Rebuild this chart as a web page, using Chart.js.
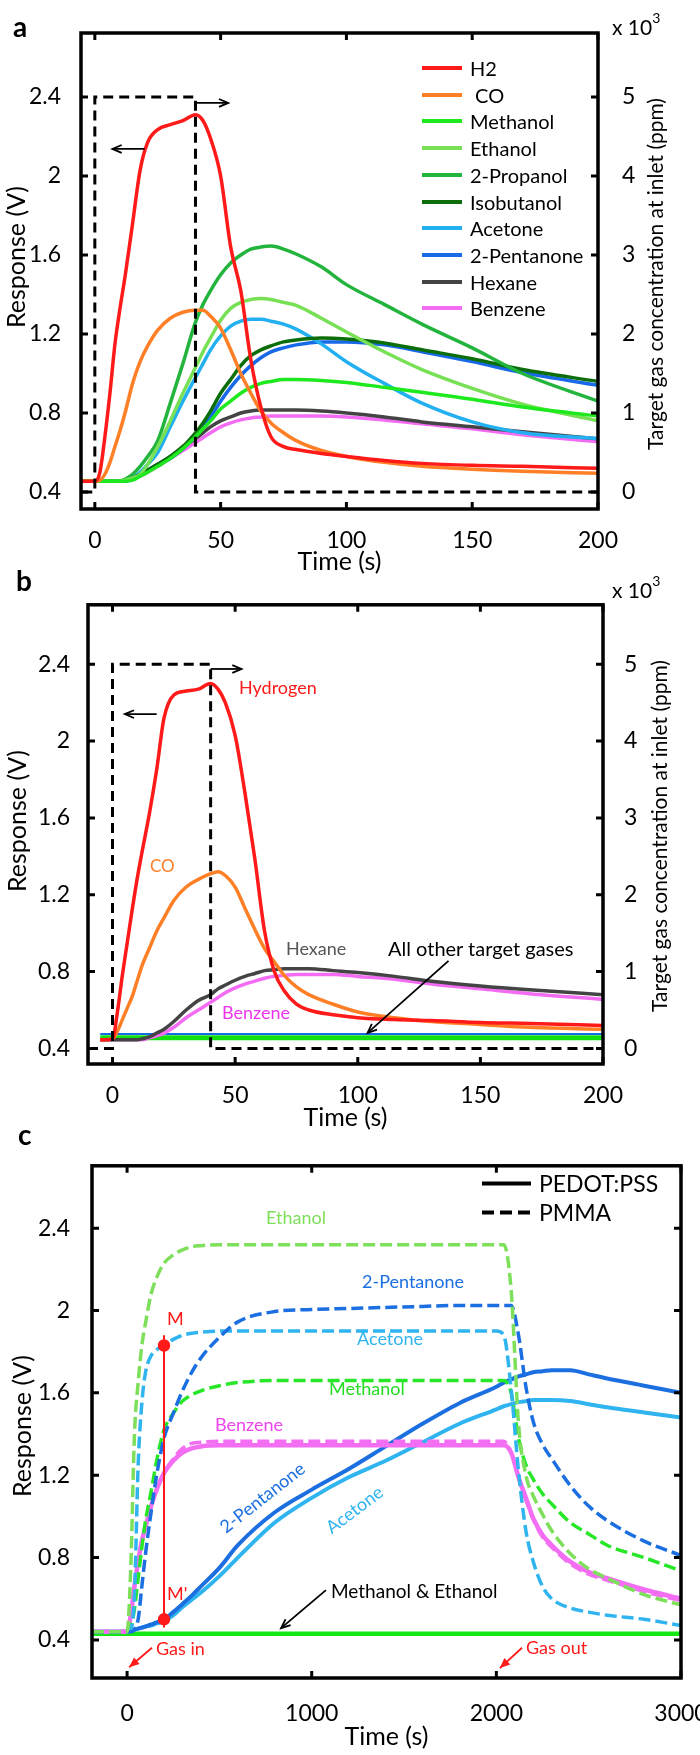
<!DOCTYPE html>
<html>
<head>
<meta charset="utf-8">
<script src="https://cdn.jsdelivr.net/npm/chart.js@4.4.1/dist/chart.umd.min.js"></script>
<style>
  html, body { margin: 0; background: #fff; }
  #page { position: relative; width: 700px; height: 1755px; overflow: hidden; font-family: Lato, 'Open Sans', sans-serif; color: #000; }
  canvas { position: absolute; left: 0; }
  .lbl { position: absolute; white-space: nowrap; line-height: 1; transform: translateY(-50%); font-size: 18px; }
  .panel { position: absolute; font-weight: bold; font-size: 28px; line-height: 1; transform: translateY(-50%); }
  .exp { position: absolute; font-size: 21px; line-height: 1; }
  .exp sup { font-size: 14px; position: relative; top: -4px; }
  .rtitle { position: absolute; white-space: nowrap; font-size: 21px; line-height: 1; transform: translate(-50%, -50%) rotate(-90deg); }
  .ltitle { position: absolute; white-space: nowrap; font-size: 25px; line-height: 1; transform: translate(-50%, -50%) rotate(-90deg); }
  .leg { position: absolute; display: flex; align-items: center; white-space: nowrap; line-height: 1; transform: translateY(-50%); }
  .leg i { display: inline-block; width: 40px; height: 4px; margin-right: 8px; }
</style>
</head>
<body>
<div id="page">
  <canvas id="cA" width="700" height="578" style="top:0"></canvas>
  <canvas id="cB" width="700" height="560" style="top:578px"></canvas>
  <canvas id="cC" width="730" height="617" style="top:1138px"></canvas>

  <div class="panel" style="left:13px;top:26px">a</div>
  <div class="panel" style="left:16px;top:580px">b</div>
  <div class="panel" style="left:18px;top:1134px">c</div>

  <div class="ltitle" style="left:15px;top:257px">Response (V)</div>
  <div class="ltitle" style="left:16px;top:821px">Response (V)</div>
  <div class="ltitle" style="left:21px;top:1426px">Response (V)</div>

  <div class="exp" style="left:612px;top:15px">x 10<sup>3</sup></div>
  <div class="exp" style="left:612px;top:578px">x 10<sup>3</sup></div>
  <div class="rtitle" style="left:654px;top:274px">Target gas concentration at inlet (ppm)</div>
  <div class="rtitle" style="left:658px;top:836px">Target gas concentration at inlet (ppm)</div>

  <div id="legA"></div>

  <div class="lbl" style="left:239px;top:687px;color:#ff1a1a">Hydrogen</div>
  <div class="lbl" style="left:150px;top:865px;color:#ff7f27;font-size:17px">CO</div>
  <div class="lbl" style="left:286px;top:948px;color:#555">Hexane</div>
  <div class="lbl" style="left:388px;top:948px;font-size:20px">All other target gases</div>
  <div class="lbl" style="left:222px;top:1012px;color:#ee33ee">Benzene</div>

  <div class="leg" style="left:482px;top:1183px;font-size:23px"><i style="width:49px;background:#000"></i>PEDOT:PSS</div>
  <div class="leg" style="left:482px;top:1212px;font-size:23px"><i style="width:49px;background:repeating-linear-gradient(90deg,#000 0 12px,transparent 12px 18px)"></i>PMMA</div>

  <div class="lbl" style="left:266px;top:1217px;color:#7ddf5a">Ethanol</div>
  <div class="lbl" style="left:362px;top:1281px;color:#1c6fe0">2-Pentanone</div>
  <div class="lbl" style="left:167px;top:1318px;color:#ff1a1a">M</div>
  <div class="lbl" style="left:357px;top:1338px;color:#2fb4f0">Acetone</div>
  <div class="lbl" style="left:329px;top:1388px;color:#22dd22">Methanol</div>
  <div class="lbl" style="left:215px;top:1424px;color:#ee44ee">Benzene</div>
  <div class="lbl" style="left:262px;top:1497px;color:#1c6fe0;transform:translate(-50%,-50%) rotate(-38deg)">2-Pentanone</div>
  <div class="lbl" style="left:354px;top:1509px;color:#2fb4f0;transform:translate(-50%,-50%) rotate(-37deg)">Acetone</div>
  <div class="lbl" style="left:167px;top:1593px;color:#ff1a1a">M'</div>
  <div class="lbl" style="left:331px;top:1590px;font-size:19px">Methanol &amp; Ethanol</div>
  <div class="lbl" style="left:156px;top:1648px;color:#ff1a1a">Gas in</div>
  <div class="lbl" style="left:526px;top:1647px;color:#ff1a1a">Gas out</div>
</div>
<script>
// ===== Panel a / b: time grid (s) and responses (V) =====
const tAB = [-5, 0, 2, 4, 6, 8, 10, 12, 15, 18, 21, 25, 30, 35, 40, 43, 46, 50, 54, 58, 62, 66, 70, 75, 80, 90, 100, 115, 130, 150, 170, 200];

const aH2 = [.455, .455, .50, .68, .90, 1.15, 1.33, 1.49, 1.76, 2.03, 2.17, 2.235, 2.26, 2.28, 2.31, 2.28, 2.19, 2.00, 1.64, 1.42, 1.07, .83, .68, .63, .615, .595, .58, .56, .545, .535, .53, .52];
const aCO = [.455, .455, .46, .49, .55, .63, .71, .80, .95, 1.06, 1.14, 1.22, 1.28, 1.31, 1.32, 1.32, 1.29, 1.23, 1.12, 1.00, .90, .81, .75, .70, .66, .61, .58, .55, .53, .515, .505, .495];
const aMethanol = [.455, .455, .455, .455, .455, .455, .455, .455, .46, .48, .50, .53, .57, .62, .68, .72, .76, .82, .86, .90, .93, .95, .96, .97, .97, .965, .955, .93, .905, .87, .83, .785];
const aEthanol = [.455, .455, .455, .455, .455, .455, .455, .46, .47, .49, .54, .63, .76, .90, 1.03, 1.11, 1.18, 1.27, 1.33, 1.36, 1.375, 1.38, 1.375, 1.36, 1.345, 1.28, 1.21, 1.11, 1.02, .925, .845, .76];
const a2Propanol = [.455, .455, .455, .455, .455, .455, .455, .465, .49, .53, .58, .66, .85, 1.05, 1.26, 1.35, 1.42, 1.50, 1.56, 1.60, 1.63, 1.64, 1.645, 1.63, 1.605, 1.54, 1.45, 1.35, 1.25, 1.13, 1.00, .86];
const aIsobutanol = [.455, .455, .455, .455, .455, .455, .455, .455, .47, .49, .51, .54, .58, .63, .70, .75, .81, .90, .97, 1.04, 1.09, 1.12, 1.14, 1.16, 1.17, 1.18, 1.175, 1.155, 1.12, 1.075, 1.02, .96];
const aAcetone = [.455, .455, .455, .455, .455, .455, .455, .455, .47, .50, .54, .60, .73, .86, .98, 1.05, 1.12, 1.19, 1.24, 1.265, 1.275, 1.275, 1.265, 1.25, 1.225, 1.15, 1.06, .95, .85, .755, .70, .67];
const a2Pentanone = [.455, .455, .455, .455, .455, .455, .455, .455, .47, .49, .51, .54, .57, .62, .68, .73, .78, .86, .93, .99, 1.04, 1.08, 1.11, 1.13, 1.145, 1.16, 1.16, 1.145, 1.11, 1.06, 1.005, .94];
const aHexane = [.455, .455, .455, .455, .455, .455, .455, .455, .47, .49, .51, .54, .58, .63, .67, .70, .73, .76, .78, .80, .81, .815, .815, .815, .815, .81, .80, .78, .755, .73, .705, .67];
const aBenzene = [.455, .455, .455, .455, .455, .455, .455, .455, .465, .48, .50, .53, .57, .61, .65, .675, .70, .73, .75, .765, .775, .78, .785, .785, .785, .785, .78, .765, .745, .72, .69, .655];

const aNames = ['H2', ' CO', 'Methanol', 'Ethanol', '2-Propanol', 'Isobutanol', 'Acetone', '2-Pentanone', 'Hexane', 'Benzene'];
const aColors = ['#ff1a1a', '#ff7f27', '#1ee81e', '#77e055', '#22b43c', '#0b6e0b', '#22b0f0', '#1769e8', '#444444', '#f36cf3'];
const aSeries = [aH2, aCO, aMethanol, aEthanol, a2Propanol, aIsobutanol, aAcetone, a2Pentanone, aHexane, aBenzene];

const bH2 = [.445, .45, .59, .78, .95, 1.12, 1.28, 1.42, 1.62, 1.85, 2.12, 2.24, 2.26, 2.27, 2.30, 2.27, 2.20, 2.03, 1.73, 1.39, 1.01, .80, .70, .63, .60, .575, .56, .55, .545, .535, .53, .52];
const bCO = [.445, .45, .49, .55, .61, .67, .75, .83, .92, 1.01, 1.08, 1.17, 1.24, 1.28, 1.31, 1.32, 1.30, 1.24, 1.13, 1.02, .92, .85, .78, .72, .68, .63, .59, .56, .54, .525, .51, .50];
const bHexane = [.445, .445, .445, .445, .445, .445, .445, .45, .46, .48, .50, .54, .60, .65, .68, .71, .73, .755, .775, .79, .805, .81, .815, .815, .815, .805, .795, .775, .75, .725, .705, .68];
const bBenzene = [.445, .445, .445, .445, .445, .445, .445, .445, .455, .465, .48, .51, .56, .60, .64, .665, .69, .715, .735, .75, .765, .775, .78, .785, .785, .785, .775, .76, .735, .71, .685, .655];
const bOtherX = [-5, 200];
const bOtherGreen = [.455, .455];
const bOtherBlue = [.475, .475];

// gas pulse at inlet (x10^3 ppm)
const concAX = [-5, 0, 0, 40, 40, 200];
const concBX = [-10, 0, 0, 40, 40, 200];
const concY = [0, 0, 5, 5, 0, 0];

// ===== Panel c: PEDOT:PSS (solid) vs PMMA (dashed) =====
const tC = [-190, 0, 20, 40, 60, 80, 100, 130, 160, 200, 250, 300, 350, 400, 500, 600, 800, 1000, 1200, 1400, 1600, 1800, 2000, 2040, 2080, 2120, 2160, 2200, 2250, 2300, 2400, 2500, 2600, 2800, 3000];
const cEthanolD = [.44, .44, .75, 1.40, 1.65, 1.83, 1.94, 2.08, 2.16, 2.23, 2.27, 2.295, 2.31, 2.315, 2.32, 2.32, 2.32, 2.32, 2.32, 2.32, 2.32, 2.32, 2.32, 2.32, 2.10, 1.45, 1.20, 1.10, 1.01, .93, .82, .745, .70, .62, .57];
const cAcetoneD = [.44, .44, .45, .62, 1.25, 1.55, 1.70, 1.78, 1.81, 1.83, 1.86, 1.88, 1.89, 1.895, 1.90, 1.90, 1.90, 1.90, 1.90, 1.90, 1.90, 1.90, 1.90, 1.88, 1.62, 1.22, .93, .78, .66, .60, .555, .535, .52, .50, .47];
const c2PentanoneD = [.44, .44, .44, .45, .50, .66, .82, 1.02, 1.20, 1.38, 1.50, 1.61, 1.70, 1.77, 1.87, 1.945, 1.995, 2.005, 2.01, 2.015, 2.02, 2.025, 2.025, 2.025, 2.025, 1.88, 1.63, 1.46, 1.35, 1.28, 1.15, 1.05, .98, .88, .81];
const cMethanolD = [.44, .44, .46, .55, .70, .85, .98, 1.12, 1.27, 1.42, 1.50, 1.56, 1.59, 1.61, 1.635, 1.65, 1.66, 1.66, 1.66, 1.66, 1.66, 1.66, 1.66, 1.66, 1.60, 1.38, 1.25, 1.18, 1.11, 1.06, .97, .915, .86, .80, .735];
const cBenzeneS = [.44, .44, .52, .66, .78, .88, .95, 1.05, 1.13, 1.21, 1.27, 1.31, 1.33, 1.34, 1.345, 1.345, 1.345, 1.345, 1.345, 1.345, 1.345, 1.345, 1.345, 1.345, 1.31, 1.19, 1.09, .99, .91, .86, .78, .73, .70, .645, .60];
const cBenzeneD = [.44, .44, .52, .66, .78, .88, .95, 1.05, 1.13, 1.21, 1.28, 1.33, 1.355, 1.36, 1.365, 1.365, 1.365, 1.365, 1.365, 1.365, 1.365, 1.365, 1.365, 1.365, 1.31, 1.19, 1.08, .985, .90, .85, .77, .72, .69, .635, .59];
const c2PentanoneS = [.44, .44, .445, .45, .455, .46, .465, .475, .485, .50, .535, .575, .615, .66, .75, .86, 1.02, 1.13, 1.23, 1.34, 1.45, 1.55, 1.63, 1.65, 1.665, 1.68, 1.69, 1.70, 1.705, 1.71, 1.71, 1.69, 1.67, 1.635, 1.60];
const cAcetoneS = [.44, .44, .445, .45, .455, .46, .465, .47, .48, .49, .52, .56, .595, .63, .71, .80, .97, 1.09, 1.19, 1.27, 1.36, 1.45, 1.52, 1.535, 1.545, 1.555, 1.56, 1.565, 1.565, 1.565, 1.56, 1.545, 1.53, 1.505, 1.48];
const cMeEtX = [-190, 3000];
const cMeEtS = [.43, .43];
const mX = [200, 200];
const mLineY = [1.88, 0.46];
const mDotY = [1.83, 0.50];

const abXTicks = [0, 50, 100, 150, 200];
const cXTicks = [0, 1000, 2000, 3000];
const respTicks = [0.4, 0.8, 1.2, 1.6, 2, 2.4];
const concTicks = [0, 1, 2, 3, 4, 5];

// ===== helpers =====
Chart.defaults.font.family = 'Lato, "Open Sans", sans-serif';
Chart.defaults.color = '#000';

const tickFont = { size: 23 };
const titleFont = { size: 25 };
const fixW = w => s => { s.width = w; };
const fixH = h => s => { s.height = h; };
const setTicks = vals => s => { s.ticks = vals.map(v => ({ value: v })); };
const pts = (xs, ys) => xs.map((x, i) => ({ x, y: ys[i] }));
const line = (label, xs, ys, color, extra) => Object.assign({
    label, data: pts(xs, ys), borderColor: color, backgroundColor: color,
    borderWidth: 3.5, pointRadius: 0, cubicInterpolationMode: 'monotone', fill: false
}, extra || {});
const dashed = { borderDash: [12, 5], borderWidth: 3.5 };
const solidC = { borderWidth: 4 };

// box + inward ticks, MATLAB style
const frame = {
    id: 'frame',
    afterDraw(chart) {
        const { ctx, chartArea: a, scales } = chart;
        const len = 7;
        ctx.save();
        ctx.strokeStyle = '#000';
        ctx.lineWidth = 3;
        ctx.beginPath();
        scales.x.ticks.forEach(t => {
            const px = scales.x.getPixelForValue(t.value);
            ctx.moveTo(px, a.bottom); ctx.lineTo(px, a.bottom - len);
            ctx.moveTo(px, a.top); ctx.lineTo(px, a.top + len);
        });
        scales.y.ticks.forEach(t => {
            const py = scales.y.getPixelForValue(t.value);
            ctx.moveTo(a.left, py); ctx.lineTo(a.left + len, py);
            ctx.moveTo(a.right, py); ctx.lineTo(a.right - len, py);
        });
        ctx.stroke();
        ctx.lineWidth = 3.5;
        ctx.strokeRect(a.left, a.top, a.right - a.left, a.bottom - a.top);
        ctx.restore();
    }
};

// annotation arrows, given in data units
const arrows = list => ({
    id: 'arrows',
    afterDatasetsDraw(chart) {
        const { ctx, scales } = chart;
        ctx.save();
        list.forEach(a => {
            const ys = scales[a.axis || 'y'];
            const x1 = scales.x.getPixelForValue(a.from[0]), y1 = ys.getPixelForValue(a.from[1]);
            const x2 = scales.x.getPixelForValue(a.to[0]), y2 = ys.getPixelForValue(a.to[1]);
            const ang = Math.atan2(y2 - y1, x2 - x1), h = a.head || 10;
            ctx.strokeStyle = ctx.fillStyle = a.color || '#000';
            ctx.lineWidth = a.width || 1.8;
            ctx.beginPath(); ctx.moveTo(x1, y1); ctx.lineTo(x2, y2); ctx.stroke();
            ctx.beginPath();
            ctx.moveTo(x2 - h * Math.cos(ang - 0.4), y2 - h * Math.sin(ang - 0.4));
            ctx.lineTo(x2, y2);
            ctx.lineTo(x2 - h * Math.cos(ang + 0.4), y2 - h * Math.sin(ang + 0.4));
            if (a.fill) { ctx.closePath(); ctx.fill(); } else ctx.stroke();
        });
        ctx.restore();
    }
});

const xAxis = (min, max, ticks, h, pad, titlePad) => ({
    type: 'linear', min, max, afterBuildTicks: setTicks(ticks), afterFit: fixH(h),
    grid: { display: false }, border: { display: false },
    ticks: { font: tickFont, padding: pad, maxRotation: 0, callback: v => String(v) },
    title: { display: true, text: 'Time (s)', font: titleFont, padding: { top: 0, bottom: titlePad } }
});
const yAxis = (min, max, w, pad) => ({
    min, max, afterBuildTicks: setTicks(respTicks), afterFit: fixW(w),
    grid: { display: false }, border: { display: false },
    ticks: { font: tickFont, padding: pad, callback: v => String(v) },
    title: { display: false, text: 'Response (V)' }
});
const concAxis = (min, max, w, pad) => ({
    position: 'right', min: (min - 0.4) / 0.4, max: (max - 0.4) / 0.4,
    afterBuildTicks: setTicks(concTicks), afterFit: fixW(w),
    grid: { display: false }, border: { display: false },
    ticks: { font: tickFont, padding: pad, callback: v => String(v) }
});
const baseOpts = {
    responsive: false, animation: false, events: [],
    plugins: { legend: { display: false }, tooltip: { enabled: false } }
};
const concStyle = { yAxisID: 'y1', borderDash: [10, 6], borderWidth: 3, cubicInterpolationMode: 'default', tension: 0 };

// ===== chart a =====
new Chart(document.getElementById('cA'), {
    type: 'line',
    data: { datasets: [
        line('conc', concAX, concY, '#000', concStyle),
        ...aNames.map((n, i) => line(n, tAB, aSeries[i], aColors[i]))
    ] },
    options: Object.assign({}, baseOpts, {
        layout: { padding: { top: 33, left: 0, right: 0, bottom: 0 } },
        scales: {
            x: xAxis(-5.5, 200, abXTicks, 69, 10, 1),
            y: yAxis(0.314, 2.724, 81, 12),
            y1: concAxis(0.314, 2.724, 102, 16)
        }
    }),
    plugins: [frame, arrows([
        { from: [19.8, 2.137], to: [7, 2.137] },
        { from: [40, 2.37], to: [53, 2.37] }
    ])]
});

const legA = document.getElementById('legA');
aNames.forEach((n, i) => {
    const d = document.createElement('div');
    d.className = 'leg';
    d.style.cssText = `left:422px;top:${68 + i * 26.7}px;font-size:20px`;
    d.innerHTML = `<i style="background:${aColors[i]}"></i>${n.replace(' ', '&nbsp;')}`;
    legA.appendChild(d);
});

// ===== chart b =====
new Chart(document.getElementById('cB'), {
    type: 'line',
    data: { datasets: [
        line('conc', concBX, concY, '#000', concStyle),
        line('Hydrogen', tAB, bH2, '#ff1a1a'),
        line('CO', tAB, bCO, '#ff7f27'),
        line('Hexane', tAB, bHexane, '#444444'),
        line('Benzene', tAB, bBenzene, '#f36cf3'),
        line('other blue', bOtherX, bOtherBlue, '#1769e8', { borderWidth: 2 }),
        line('other green', bOtherX, bOtherGreen, '#10e010', { borderWidth: 5 })
    ] },
    options: Object.assign({}, baseOpts, {
        layout: { padding: { top: 14, left: 0, right: 0, bottom: 0 } },
        scales: {
            x: xAxis(-10, 200, abXTicks, 74, 10, 5),
            y: yAxis(0.319, 2.709, 88, 10),
            y1: concAxis(0.319, 2.709, 97, 13)
        }
    }),
    plugins: [frame, arrows([
        { from: [18, 2.14], to: [5, 2.14] },
        { from: [40, 2.375], to: [52.6, 2.375] },
        { from: [137, 0.856], to: [104, 0.481] }
    ])]
});

// ===== chart c =====
new Chart(document.getElementById('cC'), {
    type: 'line',
    data: { datasets: [
        line('M-M\'', mX, mLineY, '#ff1a1a', { borderWidth: 2, cubicInterpolationMode: 'default' }),
        line('M dots', mX, mDotY, '#ff1a1a', { showLine: false, pointRadius: 4.5 }),
        line('Ethanol PMMA', tC, cEthanolD, '#7ddf5a', dashed),
        line('2-Pentanone PMMA', tC, c2PentanoneD, '#1c6fe0', dashed),
        line('Acetone PMMA', tC, cAcetoneD, '#2fb4f0', dashed),
        line('Methanol PMMA', tC, cMethanolD, '#28e628', dashed),
        line('Benzene PMMA', tC, cBenzeneD, '#f36ef3', dashed),
        line('Benzene PEDOT', tC, cBenzeneS, '#f36ef3', { borderWidth: 4.5 }),
        line('2-Pentanone PEDOT', tC, c2PentanoneS, '#1c6fe0', solidC),
        line('Acetone PEDOT', tC, cAcetoneS, '#2fb4f0', solidC),
        line('Methanol & Ethanol PEDOT', cMeEtX, cMeEtS, '#15e615', { borderWidth: 4.5 })
    ] },
    options: Object.assign({}, baseOpts, {
        layout: { padding: { top: 15, left: 0, right: 49, bottom: 0 } },
        scales: {
            x: xAxis(-190, 3000, cXTicks, 77, 14, 3),
            y: yAxis(0.215, 2.703, 92, 14)
        }
    }),
    plugins: [frame, arrows([
        { from: [1077, 0.642], to: [834, 0.457] },
        { from: [135, 0.362], to: [11, 0.267], color: '#ff1a1a', fill: true, head: 11 },
        { from: [2139, 0.362], to: [2019, 0.263], color: '#ff1a1a', fill: true, head: 11 }
    ])]
});
</script>
</body>
</html>
